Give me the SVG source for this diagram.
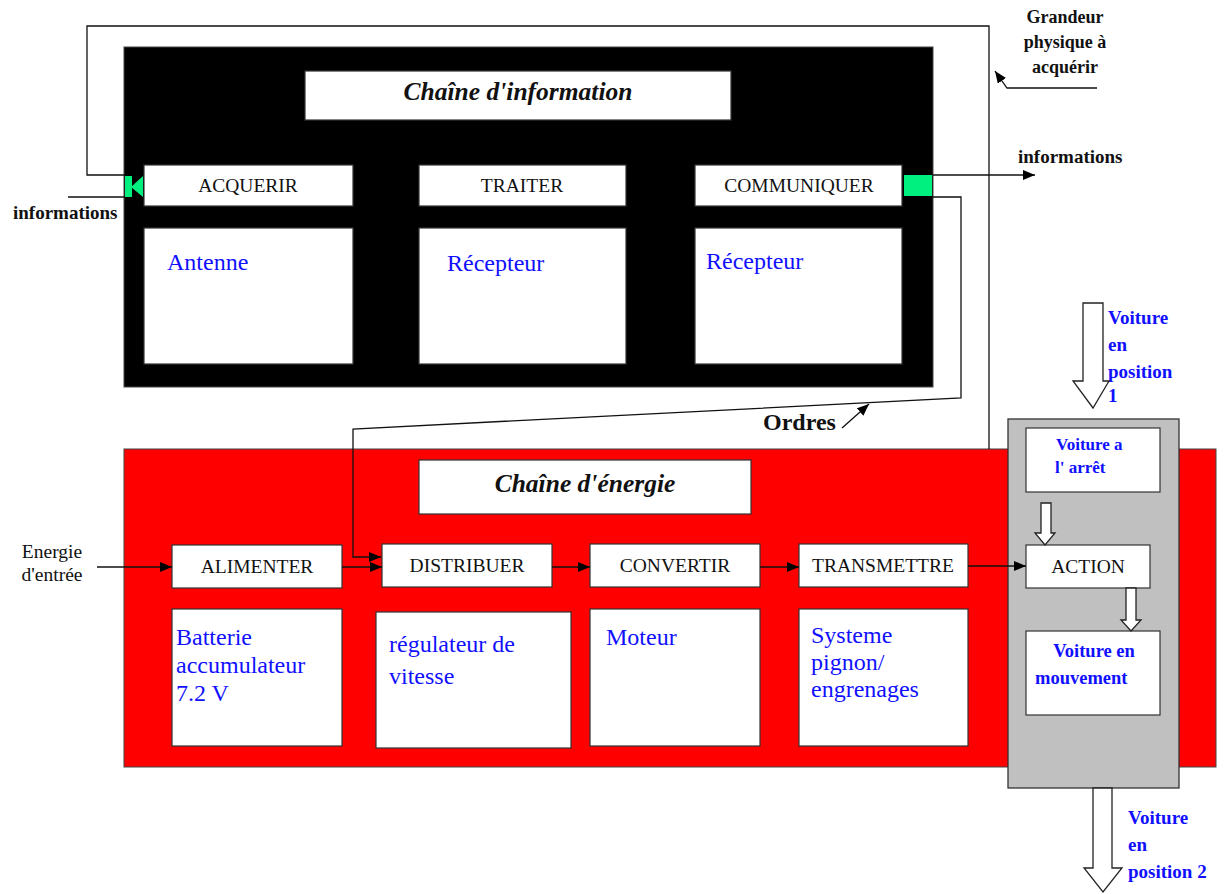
<svg xmlns="http://www.w3.org/2000/svg" width="1224" height="894" viewBox="0 0 1224 894">
<defs>
<marker id="ah" markerUnits="userSpaceOnUse" markerWidth="12" markerHeight="10" refX="12" refY="5" orient="auto">
<path d="M0,0 L12,5 L0,10 z" fill="#000"/>
</marker>
<style>
.box{fill:#fff;stroke:#333;stroke-width:1.2}
.lbl{font-family:"Liberation Serif",serif;font-size:19.5px;fill:#111;text-anchor:middle}
.blue{font-family:"Liberation Serif",serif;font-size:24px;fill:#1010ff}
.bb{font-family:"Liberation Serif",serif;font-weight:bold;font-size:19px;fill:#1010ff}
.blk{font-family:"Liberation Serif",serif;font-weight:bold;font-size:18px;fill:#111}
.title{font-family:"Liberation Serif",serif;font-weight:bold;font-style:italic;font-size:25.5px;fill:#111;text-anchor:middle}
.ln{fill:none;stroke:#111;stroke-width:1.3}
.hollow{fill:#fff;stroke:#222;stroke-width:1.3}
</style>
</defs>
<rect width="1224" height="894" fill="#fff"/>

<g id="chaine-information">
<rect x="124" y="47" width="809" height="340" fill="#000" stroke="#444"/>
<rect class="box" x="305" y="71" width="426" height="49"/>
<text class="title" x="518" y="100">Chaîne d'information</text>
</g>
<g id="acquerir">
<rect class="box" x="144" y="165" width="209" height="41"/>
<text class="lbl" x="248" y="192">ACQUERIR</text>
<rect class="box" x="144" y="228" width="209" height="136"/>
<text class="blue" x="167" y="270">Antenne</text>
<rect x="125" y="176" width="7" height="21" fill="#00f080"/>
<polygon points="131,187 143,176 143,197" fill="#00f080"/>
</g>
<g id="traiter">
<rect class="box" x="419" y="165" width="207" height="41"/>
<text class="lbl" x="522" y="192">TRAITER</text>
<rect class="box" x="419" y="228" width="207" height="136"/>
<text class="blue" x="447" y="271">Récepteur</text>
</g>
<g id="communiquer">
<rect class="box" x="695" y="165" width="207" height="41"/>
<text class="lbl" x="799" y="192">COMMUNIQUER</text>
<rect class="box" x="695" y="228" width="207" height="136"/>
<text class="blue" x="706" y="269">Récepteur</text>
<rect x="904" y="175" width="28" height="21" fill="#00f080"/>
</g>

<g id="chaine-energie">
<rect x="124" y="449" width="1092" height="318" fill="#ff0000" stroke="#444"/>
<rect class="box" x="419" y="460" width="332" height="54"/>
<text class="title" x="585" y="492">Chaîne d'énergie</text>
</g>
<g id="alimenter">
<rect class="box" x="172" y="545" width="170" height="43"/>
<text class="lbl" x="257" y="573">ALIMENTER</text>
<rect class="box" x="172" y="609" width="170" height="137"/>
<text class="blue" x="176" y="645">Batterie</text>
<text class="blue" x="176" y="673">accumulateur</text>
<text class="blue" x="176" y="701">7.2 V</text>
</g>
<g id="distribuer">
<rect class="box" x="382" y="544" width="170" height="43"/>
<text class="lbl" x="467" y="572">DISTRIBUER</text>
<rect class="box" x="376" y="612" width="195" height="136"/>
<text class="blue" x="389" y="652">régulateur de</text>
<text class="blue" x="389" y="684">vitesse</text>
</g>
<g id="convertir">
<rect class="box" x="590" y="544" width="170" height="43"/>
<text class="lbl" x="675" y="572">CONVERTIR</text>
<rect class="box" x="590" y="609" width="170" height="137"/>
<text class="blue" x="606" y="645">Moteur</text>
</g>
<g id="transmettre">
<rect class="box" x="799" y="544" width="169" height="43"/>
<text class="lbl" x="883" y="572">TRANSMETTRE</text>
<rect class="box" x="799" y="609" width="169" height="137"/>
<text class="blue" x="811" y="643">Systeme</text>
<text class="blue" x="811" y="670">pignon/</text>
<text class="blue" x="811" y="697">engrenages</text>
</g>

<g id="action-zone">
<rect x="1008" y="419" width="171" height="369" fill="#c0c0c0" stroke="#333" stroke-width="1.3"/>
</g>
<g id="voiture-arret">
<rect class="box" x="1026" y="428" width="134" height="64"/>
<text class="bb" x="1056" y="450" style="font-size:17px">Voiture a</text>
<text class="bb" x="1055" y="473" style="font-size:17px">l' arrêt</text>
</g>
<g id="action">
<rect class="box" x="1026" y="545" width="124" height="43"/>
<text class="lbl" x="1088" y="573">ACTION</text>
</g>
<g id="voiture-mouvement">
<rect class="box" x="1026" y="631" width="134" height="84"/>
<text class="bb" x="1094" y="657" text-anchor="middle" style="font-size:18.5px">Voiture  en</text>
<text class="bb" x="1035" y="684" style="font-size:18.5px">mouvement</text>
</g>

<g id="labels">
<text class="blk" x="13" y="219" style="font-size:19px">informations</text>
<text class="blk" x="1018" y="163" style="font-size:19px">informations</text>
<text class="blk" x="1065" y="23" text-anchor="middle">Grandeur</text>
<text class="blk" x="1065" y="48" text-anchor="middle">physique à</text>
<text class="blk" x="1065" y="73" text-anchor="middle">acquérir</text>
<text x="52" y="558" font-family="Liberation Serif, serif" font-size="19.5" fill="#111" text-anchor="middle">Energie</text>
<text x="52" y="581" font-family="Liberation Serif, serif" font-size="19.5" fill="#111" text-anchor="middle">d'entrée</text>
<text class="blk" x="763" y="430" style="font-size:24px">Ordres</text>
<text class="bb" x="1108" y="324">Voiture</text>
<text class="bb" x="1108" y="351">en</text>
<text class="bb" x="1108" y="378">position</text>
<text class="bb" x="1108" y="402">1</text>
<text class="bb" x="1128" y="824">Voiture</text>
<text class="bb" x="1128" y="851">en</text>
<text class="bb" x="1128" y="878">position 2</text>
</g>

<g id="connectors">
<polyline class="ln" points="125,175 87,175 87,26 989,26 989,449"/>
<line class="ln" x1="68" y1="197" x2="125" y2="197"/>
<polyline class="ln" points="1097,88 1007,88 995,71" marker-end="url(#ah)"/>
<line class="ln" x1="933" y1="175" x2="1035" y2="175" marker-end="url(#ah)"/>
<polyline class="ln" points="932,197 961,197 961,398 353,429 353,557 381,557" marker-end="url(#ah)"/>
<line class="ln" x1="842" y1="428" x2="869" y2="404" marker-end="url(#ah)"/>
<line class="ln" x1="97" y1="567" x2="172" y2="567" marker-end="url(#ah)"/>
<line class="ln" x1="342" y1="567" x2="382" y2="567" marker-end="url(#ah)"/>
<line class="ln" x1="552" y1="567" x2="590" y2="567" marker-end="url(#ah)"/>
<line class="ln" x1="760" y1="567" x2="799" y2="567" marker-end="url(#ah)"/>
<line class="ln" x1="968" y1="566" x2="1026" y2="566" marker-end="url(#ah)"/>
<polygon class="hollow" points="1083,303 1103,303 1103,381 1109,381 1093,408 1073,381 1083,381"/>
<polygon class="hollow" points="1041,503 1051,503 1051,533 1055,533 1045,545 1035,533 1041,533"/>
<polygon class="hollow" points="1126,588 1136,588 1136,620 1141,620 1131,631 1121,620 1126,620"/>
<polygon class="hollow" points="1093,788 1112,788 1112,868 1122,868 1103,892 1084,868 1093,868"/>
</g>
</svg>
